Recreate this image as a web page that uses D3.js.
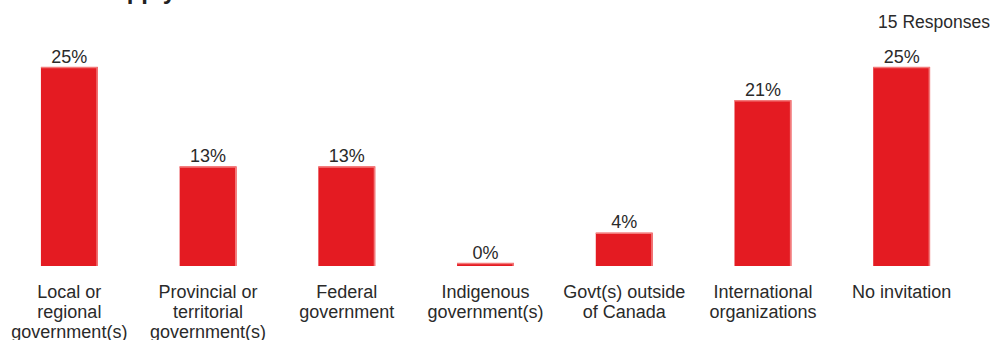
<!DOCTYPE html>
<html>
<head>
<meta charset="utf-8">
<script src="https://cdn.jsdelivr.net/npm/d3@7"></script>
<style>
  html, body { margin: 0; padding: 0; background: #fff; }
  svg { display: block; font-family: "Liberation Sans", Arial, Helvetica, sans-serif; }
</style>
</head>
<body>
<div id="chart"></div>
<script>
// share of all selections (24 selections from 15 responses)
var categories = [
  ["Local or", "regional", "government(s)"],
  ["Provincial or", "territorial", "government(s)"],
  ["Federal", "government"],
  ["Indigenous", "government(s)"],
  ["Govt(s) outside", "of Canada"],
  ["International", "organizations"],
  ["No invitation"]
];
var percents = [25, 12.5, 12.5, 0, 4.17, 20.83, 25];
var valueLabels = ["25%", "13%", "13%", "0%", "4%", "21%", "25%"];
var responseNote = "15 Responses";
var titleText = "Select all that apply";

var width = 992, height = 340;
var baseY = 266, topY = 67;

var svg = d3.select("#chart").append("svg")
  .attr("width", width)
  .attr("height", height);

// title, mostly scrolled out of view at the top
svg.append("text")
  .attr("x", 176)
  .attr("y", -1)
  .attr("text-anchor", "end")
  .style("font-size", "24px")
  .style("font-weight", "bold")
  .style("fill", "#222")
  .text(titleText);

svg.append("text")
  .attr("x", 990)
  .attr("y", 28)
  .attr("text-anchor", "end")
  .style("font-size", "17.5px")
  .style("fill", "#2a2a2a")
  .text(responseNote);

var x = d3.scaleBand()
  .domain(d3.range(categories.length))
  .range([0, 971])
  .paddingInner(0.59)
  .paddingOuter(0.295);

var y = d3.scaleLinear()
  .domain([0, 25])
  .range([baseY, topY]);

function barTop(d) {
  // zero bars still show as a thin strip
  return Math.min(y(d), baseY - 3);
}

var bars = svg.append("g").selectAll("g")
  .data(percents)
  .enter().append("g");

bars.append("rect")
  .attr("x", function(d, i) { return x(i); })
  .attr("y", function(d) { return barTop(d); })
  .attr("width", x.bandwidth())
  .attr("height", function(d) { return baseY - barTop(d); })
  .style("fill", "#e41b22");

// light edge along the top and right of each bar
bars.append("path")
  .attr("d", function(d, i) {
    var x0 = x(i), x1 = x(i) + x.bandwidth() - 0.75, t = barTop(d) + 0.5;
    return "M" + x0 + "," + t + "H" + x1 + "V" + baseY;
  })
  .style("fill", "none")
  .style("stroke", "#f37a7a")
  .style("stroke-width", 1.5);

bars.append("text")
  .attr("x", function(d, i) { return x(i) + x.bandwidth() / 2; })
  .attr("y", function(d) { return barTop(d) - 4.5; })
  .attr("text-anchor", "middle")
  .style("font-size", "18px")
  .style("fill", "#2a2a2a")
  .text(function(d, i) { return valueLabels[i]; });

var labels = svg.append("g").selectAll("text")
  .data(categories)
  .enter().append("text")
  .attr("text-anchor", "middle")
  .style("font-size", "18px")
  .style("fill", "#2a2a2a");

labels.selectAll("tspan")
  .data(function(d, i) { return d.map(function(line) { return { line: line, i: i }; }); })
  .enter().append("tspan")
  .attr("x", function(d) { return x(d.i) + x.bandwidth() / 2; })
  .attr("y", function(d, j) { return 298 + j * 20; })
  .text(function(d) { return d.line; });
</script>
</body>
</html>
